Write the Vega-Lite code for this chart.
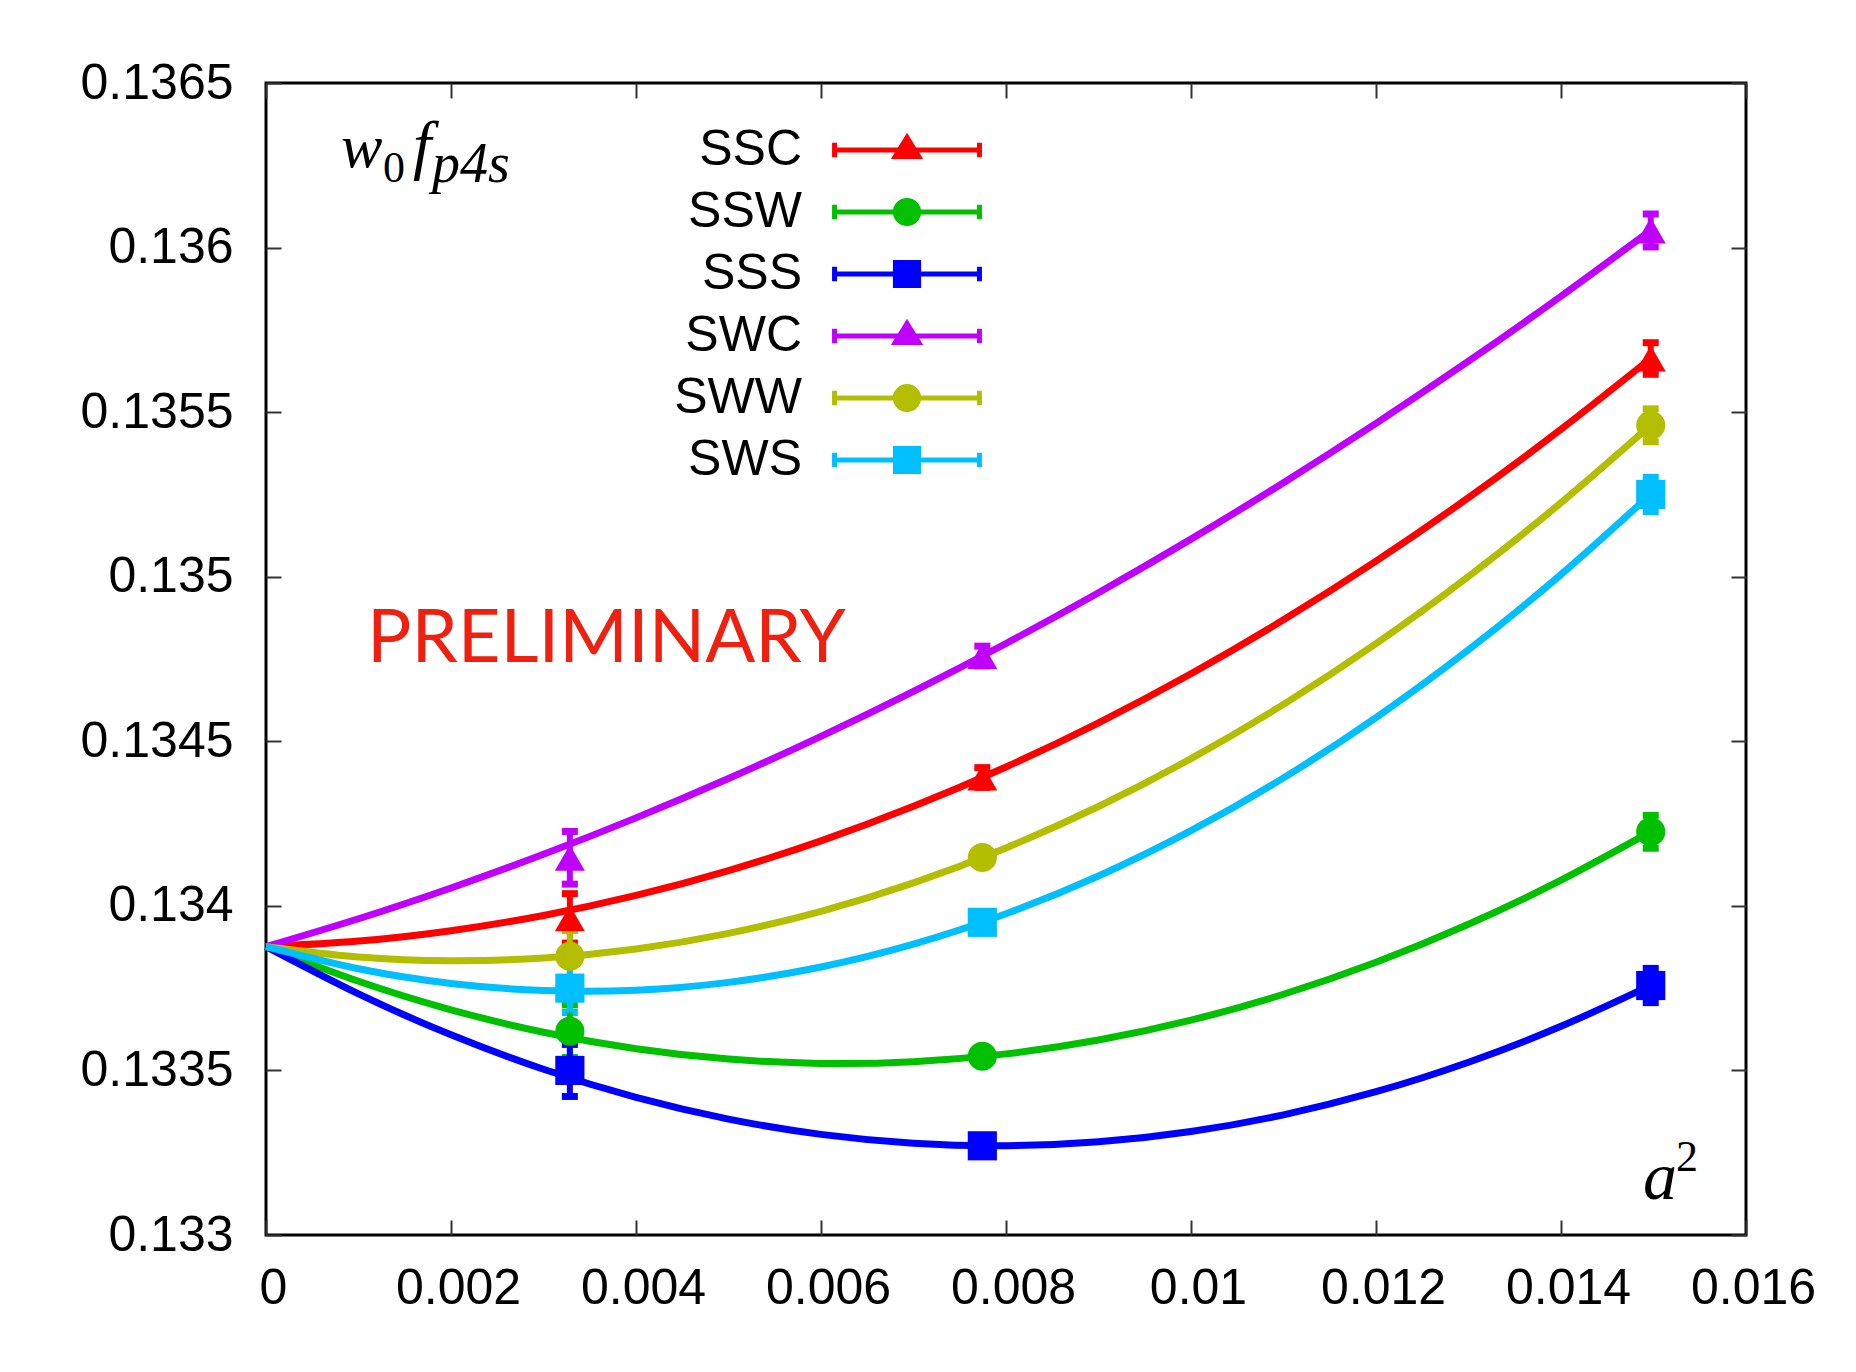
{
  "$schema": "https://vega.github.io/schema/vega-lite/v6.json",
  "width": 1480,
  "height": 1152,
  "autosize": {"type": "none"},
  "padding": {"left": 266, "top": 83, "right": 110, "bottom": 137},
  "background": "white",
  "config": {
    "view": {"stroke": "black", "strokeWidth": 3},
    "axis": {"grid": false, "domain": false, "labelFont": "Liberation Sans", "labelFontSize": 50, "labelColor": "black", "tickColor": "#333333", "tickWidth": 2, "tickSize": -15, "labelOverlap": false, "labelFlush": false}
  },
  "datasets": {
    "points": [
      {"series": "SSC", "x": 0.003285, "y": 0.133962, "err": 0.000075},
      {"series": "SSC", "x": 0.007744, "y": 0.13439, "err": 0.00003},
      {"series": "SSC", "x": 0.01497, "y": 0.135663, "err": 0.000048},
      {"series": "SSW", "x": 0.003285, "y": 0.133619, "err": 0.00008},
      {"series": "SSW", "x": 0.007744, "y": 0.133543, "err": 0.00002},
      {"series": "SSW", "x": 0.01497, "y": 0.134225, "err": 0.00005},
      {"series": "SSS", "x": 0.003285, "y": 0.1335, "err": 0.000079},
      {"series": "SSS", "x": 0.007744, "y": 0.133271, "err": 0.00002},
      {"series": "SSS", "x": 0.01497, "y": 0.133758, "err": 0.000052},
      {"series": "SWC", "x": 0.003285, "y": 0.134146, "err": 0.00008},
      {"series": "SWC", "x": 0.007744, "y": 0.134759, "err": 0.00003},
      {"series": "SWC", "x": 0.01497, "y": 0.136052, "err": 0.00005},
      {"series": "SWW", "x": 0.003285, "y": 0.133847, "err": 0.000078},
      {"series": "SWW", "x": 0.007744, "y": 0.134147, "err": 0.00002},
      {"series": "SWW", "x": 0.01497, "y": 0.13546, "err": 0.00005},
      {"series": "SWS", "x": 0.003285, "y": 0.13375, "err": 0.000074},
      {"series": "SWS", "x": 0.007744, "y": 0.13395, "err": 0.00002},
      {"series": "SWS", "x": 0.01497, "y": 0.13525, "err": 0.000052}
    ],
    "curves": [
      {"series": "SSC", "x": 0, "y": 0.133876}, {"series": "SSC", "x": 0.001, "y": 0.133893}, {"series": "SSC", "x": 0.002, "y": 0.1339245}, {"series": "SSC", "x": 0.003, "y": 0.1339707}, {"series": "SSC", "x": 0.004, "y": 0.1340316}, {"series": "SSC", "x": 0.005, "y": 0.1341072}, {"series": "SSC", "x": 0.006, "y": 0.1341975}, {"series": "SSC", "x": 0.007, "y": 0.1343024}, {"series": "SSC", "x": 0.008, "y": 0.134422}, {"series": "SSC", "x": 0.009, "y": 0.1345563}, {"series": "SSC", "x": 0.010, "y": 0.1347053}, {"series": "SSC", "x": 0.011, "y": 0.1348689}, {"series": "SSC", "x": 0.012, "y": 0.1350472}, {"series": "SSC", "x": 0.013, "y": 0.1352402}, {"series": "SSC", "x": 0.014, "y": 0.1354478}, {"series": "SSC", "x": 0.01497, "y": 0.1356633},
      {"series": "SSW", "x": 0, "y": 0.133876}, {"series": "SSW", "x": 0.001, "y": 0.133771}, {"series": "SSW", "x": 0.002, "y": 0.1336843}, {"series": "SSW", "x": 0.003, "y": 0.133616}, {"series": "SSW", "x": 0.004, "y": 0.1335661}, {"series": "SSW", "x": 0.005, "y": 0.1335346}, {"series": "SSW", "x": 0.006, "y": 0.1335214}, {"series": "SSW", "x": 0.007, "y": 0.1335267}, {"series": "SSW", "x": 0.008, "y": 0.1335503}, {"series": "SSW", "x": 0.009, "y": 0.1335923}, {"series": "SSW", "x": 0.010, "y": 0.1336527}, {"series": "SSW", "x": 0.011, "y": 0.1337314}, {"series": "SSW", "x": 0.012, "y": 0.1338286}, {"series": "SSW", "x": 0.013, "y": 0.1339441}, {"series": "SSW", "x": 0.014, "y": 0.134078}, {"series": "SSW", "x": 0.01497, "y": 0.1342254},
      {"series": "SSS", "x": 0, "y": 0.133876}, {"series": "SSS", "x": 0.001, "y": 0.1337324}, {"series": "SSS", "x": 0.002, "y": 0.1336082}, {"series": "SSS", "x": 0.003, "y": 0.1335034}, {"series": "SSS", "x": 0.004, "y": 0.1334181}, {"series": "SSS", "x": 0.005, "y": 0.1333522}, {"series": "SSS", "x": 0.006, "y": 0.1333058}, {"series": "SSS", "x": 0.007, "y": 0.1332788}, {"series": "SSS", "x": 0.008, "y": 0.1332712}, {"series": "SSS", "x": 0.009, "y": 0.1332831}, {"series": "SSS", "x": 0.010, "y": 0.1333144}, {"series": "SSS", "x": 0.011, "y": 0.1333652}, {"series": "SSS", "x": 0.012, "y": 0.1334354}, {"series": "SSS", "x": 0.013, "y": 0.133525}, {"series": "SSS", "x": 0.014, "y": 0.1336341}, {"series": "SSS", "x": 0.01497, "y": 0.1337585},
      {"series": "SWC", "x": 0, "y": 0.133876}, {"series": "SWC", "x": 0.001, "y": 0.1339608}, {"series": "SWC", "x": 0.002, "y": 0.1340543}, {"series": "SWC", "x": 0.003, "y": 0.1341565}, {"series": "SWC", "x": 0.004, "y": 0.1342673}, {"series": "SWC", "x": 0.005, "y": 0.1343868}, {"series": "SWC", "x": 0.006, "y": 0.1345149}, {"series": "SWC", "x": 0.007, "y": 0.1346517}, {"series": "SWC", "x": 0.008, "y": 0.1347972}, {"series": "SWC", "x": 0.009, "y": 0.1349514}, {"series": "SWC", "x": 0.010, "y": 0.1351142}, {"series": "SWC", "x": 0.011, "y": 0.1352857}, {"series": "SWC", "x": 0.012, "y": 0.1354659}, {"series": "SWC", "x": 0.013, "y": 0.1356547}, {"series": "SWC", "x": 0.014, "y": 0.1358522}, {"series": "SWC", "x": 0.01497, "y": 0.1360521},
      {"series": "SWW", "x": 0, "y": 0.133876}, {"series": "SWW", "x": 0.001, "y": 0.1338449}, {"series": "SWW", "x": 0.002, "y": 0.1338334}, {"series": "SWW", "x": 0.003, "y": 0.1338414}, {"series": "SWW", "x": 0.004, "y": 0.1338691}, {"series": "SWW", "x": 0.005, "y": 0.1339165}, {"series": "SWW", "x": 0.006, "y": 0.1339834}, {"series": "SWW", "x": 0.007, "y": 0.1340699}, {"series": "SWW", "x": 0.008, "y": 0.134176}, {"series": "SWW", "x": 0.009, "y": 0.1343018}, {"series": "SWW", "x": 0.010, "y": 0.1344472}, {"series": "SWW", "x": 0.011, "y": 0.1346121}, {"series": "SWW", "x": 0.012, "y": 0.1347967}, {"series": "SWW", "x": 0.013, "y": 0.1350009}, {"series": "SWW", "x": 0.014, "y": 0.1352247}, {"series": "SWW", "x": 0.01497, "y": 0.1354605},
      {"series": "SWS", "x": 0, "y": 0.133876}, {"series": "SWS", "x": 0.001, "y": 0.1338088}, {"series": "SWS", "x": 0.002, "y": 0.1337643}, {"series": "SWS", "x": 0.003, "y": 0.1337427}, {"series": "SWS", "x": 0.004, "y": 0.1337437}, {"series": "SWS", "x": 0.005, "y": 0.1337676}, {"series": "SWS", "x": 0.006, "y": 0.1338142}, {"series": "SWS", "x": 0.007, "y": 0.1338836}, {"series": "SWS", "x": 0.008, "y": 0.1339758}, {"series": "SWS", "x": 0.009, "y": 0.1340907}, {"series": "SWS", "x": 0.010, "y": 0.1342284}, {"series": "SWS", "x": 0.011, "y": 0.1343888}, {"series": "SWS", "x": 0.012, "y": 0.1345721}, {"series": "SWS", "x": 0.013, "y": 0.1347781}, {"series": "SWS", "x": 0.014, "y": 0.1350068}, {"series": "SWS", "x": 0.01497, "y": 0.1352505}
    ]
  },
  "resolve": {"axis": {"x": "independent", "y": "independent"}},
  "layer": [
    {
      "data": {"name": "curves"},
      "mark": {"type": "line", "opacity": 0},
      "encoding": {
        "x": {"field": "x", "type": "quantitative", "scale": {"domain": [0, 0.016], "nice": false, "zero": false}, "axis": {"orient": "top", "labels": false, "title": null, "values": [0, 0.002, 0.004, 0.006, 0.008, 0.01, 0.012, 0.014, 0.016]}},
        "y": {"field": "y", "type": "quantitative", "scale": {"domain": [0.133, 0.1365], "nice": false, "zero": false}, "axis": {"orient": "right", "labels": false, "title": null, "values": [0.133, 0.1335, 0.134, 0.1345, 0.135, 0.1355, 0.136, 0.1365]}},
        "detail": {"field": "series"}
      }
    },
    {
      "data": {"name": "points"},
      "mark": {"type": "errorbar", "thickness": 6, "ticks": {"size": 16, "thickness": 7, "opacity": 1}},
      "encoding": {
        "x": {"field": "x", "type": "quantitative", "scale": {"domain": [0, 0.016], "nice": false, "zero": false}, "axis": null},
        "y": {"field": "y", "type": "quantitative", "scale": {"domain": [0.133, 0.1365], "nice": false, "zero": false}, "axis": null},
        "yError": {"field": "err"},
        "color": {"field": "series", "type": "nominal", "scale": {"domain": ["SSC", "SSW", "SSS", "SWC", "SWW", "SWS"], "range": ["#FF0000", "#00C000", "#0000FF", "#C000FF", "#B3BE00", "#00BFFF"]}}
      }
    },
    {
      "data": {"name": "points"},
      "transform": [{"filter": {"field": "series", "oneOf": ["SSC", "SWC"]}}],
      "mark": {"type": "point", "shape": "triangle-up", "filled": true, "opacity": 1, "size": 900},
      "encoding": {
        "x": {"field": "x", "type": "quantitative", "scale": {"domain": [0, 0.016], "nice": false, "zero": false}, "axis": null},
        "y": {"field": "y", "type": "quantitative", "scale": {"domain": [0.133, 0.1365], "nice": false, "zero": false}, "axis": null},
        "color": {"field": "series", "type": "nominal", "scale": {"domain": ["SSC", "SSW", "SSS", "SWC", "SWW", "SWS"], "range": ["#FF0000", "#00C000", "#0000FF", "#C000FF", "#B3BE00", "#00BFFF"]}}
      }
    },
    {
      "data": {"name": "points"},
      "transform": [{"filter": {"field": "series", "oneOf": ["SSW", "SWW"]}}],
      "mark": {"type": "point", "shape": "circle", "filled": true, "opacity": 1, "size": 850},
      "encoding": {
        "x": {"field": "x", "type": "quantitative", "scale": {"domain": [0, 0.016], "nice": false, "zero": false}, "axis": null},
        "y": {"field": "y", "type": "quantitative", "scale": {"domain": [0.133, 0.1365], "nice": false, "zero": false}, "axis": null},
        "color": {"field": "series", "type": "nominal", "scale": {"domain": ["SSC", "SSW", "SSS", "SWC", "SWW", "SWS"], "range": ["#FF0000", "#00C000", "#0000FF", "#C000FF", "#B3BE00", "#00BFFF"]}}
      }
    },
    {
      "data": {"name": "points"},
      "transform": [{"filter": {"field": "series", "oneOf": ["SSS", "SWS"]}}],
      "mark": {"type": "point", "shape": "square", "filled": true, "opacity": 1, "size": 850},
      "encoding": {
        "x": {"field": "x", "type": "quantitative", "scale": {"domain": [0, 0.016], "nice": false, "zero": false}, "axis": null},
        "y": {"field": "y", "type": "quantitative", "scale": {"domain": [0.133, 0.1365], "nice": false, "zero": false}, "axis": null},
        "color": {"field": "series", "type": "nominal", "scale": {"domain": ["SSC", "SSW", "SSS", "SWC", "SWW", "SWS"], "range": ["#FF0000", "#00C000", "#0000FF", "#C000FF", "#B3BE00", "#00BFFF"]}}
      }
    },
    {
      "data": {"name": "curves"},
      "mark": {"type": "line", "strokeWidth": 7, "interpolate": "natural"},
      "encoding": {
        "x": {"field": "x", "type": "quantitative", "scale": {"domain": [0, 0.016], "nice": false, "zero": false}, "axis": {"orient": "bottom", "title": null, "format": "~g", "labelPadding": 43, "labelOffset": 7, "values": [0, 0.002, 0.004, 0.006, 0.008, 0.01, 0.012, 0.014, 0.016]}},
        "y": {"field": "y", "type": "quantitative", "scale": {"domain": [0.133, 0.1365], "nice": false, "zero": false}, "axis": {"orient": "left", "title": null, "format": "~g", "labelPadding": 48, "values": [0.133, 0.1335, 0.134, 0.1345, 0.135, 0.1355, 0.136, 0.1365]}},
        "color": {
          "field": "series", "type": "nominal",
          "scale": {"domain": ["SSC", "SSW", "SSS", "SWC", "SWW", "SWS"], "range": ["#FF0000", "#00C000", "#0000FF", "#C000FF", "#B3BE00", "#00BFFF"]},
          "legend": {
            "orient": "none", "legendX": 604, "legendY": 30, "title": null, "padding": 0,
            "labelFont": "Liberation Sans", "labelFontSize": 50, "labelColor": "black", "labelAlign": "right", "labelOffset": -142, "labelLimit": 400,
            "symbolSize": 4761, "symbolStrokeWidth": 5, "rowPadding": 0,
            "encode": {
              "symbols": {
                "update": {
                  "shape": {"signal": "(datum.value === 'SSC' || datum.value === 'SWC') ? 'M-2.1,0H2.1M-2.1,-0.21V0.21M2.1,-0.21V0.21M0,-0.36L0.34,0.19L-0.34,0.19Z' : ((datum.value === 'SSW' || datum.value === 'SWW') ? 'M-2.1,0H2.1M-2.1,-0.21V0.21M2.1,-0.21V0.21M-0.336,0A0.336,0.336,0,1,0,0.336,0A0.336,0.336,0,1,0,-0.336,0Z' : 'M-2.1,0H2.1M-2.1,-0.21V0.21M2.1,-0.21V0.21M-0.336,-0.336H0.336V0.336H-0.336Z')"},
                  "fill": {"scale": "color", "field": "value"},
                  "stroke": {"scale": "color", "field": "value"},
                  "strokeWidth": {"value": 5},
                  "opacity": {"value": 1}
                }
              }
            }
          }
        }
      }
    },
    {
      "data": {"values": [{}]},
      "mark": {"type": "text", "text": "PRELIMINARY", "font": "Lato", "fontSize": 74, "color": "#EE2010", "align": "left", "baseline": "alphabetic"},
      "encoding": {"x": {"datum": 0.001092, "type": "quantitative", "scale": {"domain": [0, 0.016], "nice": false, "zero": false}, "axis": null}, "y": {"datum": 0.134742, "type": "quantitative", "scale": {"domain": [0.133, 0.1365], "nice": false, "zero": false}, "axis": null}}
    },
    {
      "data": {"values": [{}]},
      "mark": {"type": "text", "text": "w", "font": "Liberation Serif", "fontStyle": "italic", "fontSize": 62, "color": "black", "align": "left", "baseline": "alphabetic"},
      "encoding": {"x": {"datum": 0.000811, "type": "quantitative", "scale": {"domain": [0, 0.016], "nice": false, "zero": false}, "axis": null}, "y": {"datum": 0.136245, "type": "quantitative", "scale": {"domain": [0.133, 0.1365], "nice": false, "zero": false}, "axis": null}}
    },
    {
      "data": {"values": [{}]},
      "mark": {"type": "text", "text": "0", "font": "Liberation Serif", "fontSize": 44, "color": "black", "align": "left", "baseline": "alphabetic", "dx": 42, "dy": 15},
      "encoding": {"x": {"datum": 0.000811, "type": "quantitative", "scale": {"domain": [0, 0.016], "nice": false, "zero": false}, "axis": null}, "y": {"datum": 0.136245, "type": "quantitative", "scale": {"domain": [0.133, 0.1365], "nice": false, "zero": false}, "axis": null}}
    },
    {
      "data": {"values": [{}]},
      "mark": {"type": "text", "text": "f", "font": "Liberation Serif", "fontStyle": "italic", "fontSize": 66, "color": "black", "align": "left", "baseline": "alphabetic", "dx": 72},
      "encoding": {"x": {"datum": 0.000811, "type": "quantitative", "scale": {"domain": [0, 0.016], "nice": false, "zero": false}, "axis": null}, "y": {"datum": 0.136245, "type": "quantitative", "scale": {"domain": [0.133, 0.1365], "nice": false, "zero": false}, "axis": null}}
    },
    {
      "data": {"values": [{}]},
      "mark": {"type": "text", "text": "p4s", "font": "Liberation Serif", "fontStyle": "italic", "fontSize": 56, "color": "black", "align": "left", "baseline": "alphabetic", "dx": 91, "dy": 15},
      "encoding": {"x": {"datum": 0.000811, "type": "quantitative", "scale": {"domain": [0, 0.016], "nice": false, "zero": false}, "axis": null}, "y": {"datum": 0.136245, "type": "quantitative", "scale": {"domain": [0.133, 0.1365], "nice": false, "zero": false}, "axis": null}}
    },
    {
      "data": {"values": [{}]},
      "mark": {"type": "text", "text": "a", "font": "Liberation Serif", "fontStyle": "italic", "fontSize": 68, "color": "black", "align": "left", "baseline": "alphabetic"},
      "encoding": {"x": {"datum": 0.014886, "type": "quantitative", "scale": {"domain": [0, 0.016], "nice": false, "zero": false}, "axis": null}, "y": {"datum": 0.1331094, "type": "quantitative", "scale": {"domain": [0.133, 0.1365], "nice": false, "zero": false}, "axis": null}}
    },
    {
      "data": {"values": [{}]},
      "mark": {"type": "text", "text": "2", "font": "Liberation Serif", "fontSize": 44, "color": "black", "align": "left", "baseline": "alphabetic", "dx": 33, "dy": -28},
      "encoding": {"x": {"datum": 0.014886, "type": "quantitative", "scale": {"domain": [0, 0.016], "nice": false, "zero": false}, "axis": null}, "y": {"datum": 0.1331094, "type": "quantitative", "scale": {"domain": [0.133, 0.1365], "nice": false, "zero": false}, "axis": null}}
    }
  ]
}
